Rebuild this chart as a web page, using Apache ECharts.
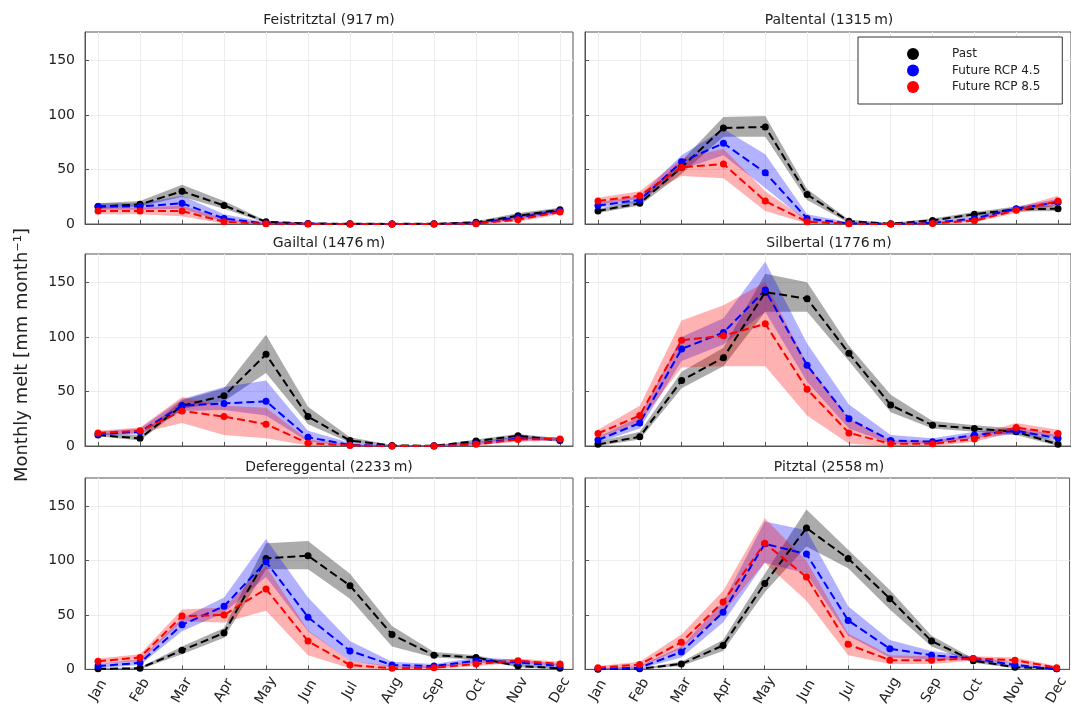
<!DOCTYPE html>
<html><head><meta charset="utf-8">
<script src="https://cdn.jsdelivr.net/npm/echarts@6/dist/echarts.min.js"></script>
<style>html,body{margin:0;padding:0;background:#fff}#c{width:1071px;height:709px}</style>
</head><body><div id="c"></div>
<script>
const months = ['Jan','Feb','Mar','Apr','May','Jun','Jul','Aug','Sep','Oct','Nov','Dec'];
const panelTitles = ['Feistritztal (917\u2009m)','Paltental (1315\u2009m)','Gailtal (1476\u2009m)','Silbertal (1776\u2009m)','Defereggental (2233\u2009m)','Pitztal (2558\u2009m)'];
const yTicks = [0, 50, 100, 150];
const seriesNames = ['Past', 'Future RCP 4.5', 'Future RCP 8.5'];

// Feistritztal
const feiPast    = [16, 18, 30, 17, 2, 0.5, 0.2, 0.1, 0.2, 1.5, 7.5, 13];
const feiPastLo  = [14, 16, 25, 14, 1, 0, 0, 0, 0, 0.5, 5.5, 11];
const feiPastHi  = [19, 21, 36, 21, 3, 1, 0.5, 0.3, 0.5, 2.5, 10, 15];
const feiRcp45   = [16, 16, 19, 5, 0.5, 0.2, 0, 0, 0, 0.5, 6, 12];
const feiRcp45Lo = [13, 13, 14, 2, 0, 0, 0, 0, 0, 0, 4, 10];
const feiRcp45Hi = [19, 19, 26, 9, 1.5, 0.5, 0.2, 0.2, 0.2, 1.5, 8.5, 14.5];
const feiRcp85   = [12, 12, 12, 2, 0.3, 0.1, 0, 0, 0, 0.3, 4, 11];
const feiRcp85Lo = [9, 9, 7, 0.5, 0, 0, 0, 0, 0, 0, 2, 9];
const feiRcp85Hi = [15, 15, 17, 4.5, 1, 0.3, 0.1, 0.1, 0.1, 1, 7, 14];
// Paltental
const palPast    = [12, 19, 52, 88, 89, 27, 2.5, 0.3, 3.3, 9, 13.5, 14];
const palPastLo  = [10, 17, 46, 80, 80, 22, 1, 0, 2, 7, 11.5, 12];
const palPastHi  = [14, 22, 58, 98, 99, 32, 4, 1, 5, 11, 16, 17];
const palRcp45   = [17, 22, 57, 74, 47, 5, 0.5, 0, 1, 5, 14, 20];
const palRcp45Lo = [15, 20, 50, 63, 33, 2, 0, 0, 0.2, 3, 12, 17];
const palRcp45Hi = [20, 26, 63, 87, 64, 9, 1.5, 0.5, 2, 7, 16, 23];
const palRcp85   = [21, 26, 52, 55, 21, 2, 0.2, 0, 0.5, 3, 12.5, 21];
const palRcp85Lo = [18, 23, 44, 42, 12, 0.5, 0, 0, 0, 1.5, 10, 17];
const palRcp85Hi = [24, 30, 60, 69, 30, 4, 1, 0.3, 1.5, 5, 15, 26];
// Gailtal
const gaiPast    = [10, 7, 37, 46, 84, 27, 5, 0.5, 0.2, 4.5, 9.5, 5];
const gaiPastLo  = [9, 5, 34, 41, 67, 20, 3, 0, 0, 2.5, 7.5, 4];
const gaiPastHi  = [12, 10, 42, 53, 102, 36, 8, 1, 0.5, 6, 11, 7];
const gaiRcp45   = [11, 13, 37, 39, 41, 8, 1, 0.1, 0, 2, 7, 6];
const gaiRcp45Lo = [10, 11, 32, 33, 28, 4, 0, 0, 0, 1, 5, 5];
const gaiRcp45Hi = [13, 16, 43, 54, 60, 14, 3, 0.5, 0.2, 4, 9, 8];
const gaiRcp85   = [12, 14, 32, 27, 20, 2.5, 0.5, 0, 0, 1.5, 6, 6.5];
const gaiRcp85Lo = [10, 12, 21, 10, 7, 0.5, 0, 0, 0, 0.5, 4, 5];
const gaiRcp85Hi = [14, 17, 45, 37, 35, 6, 1.5, 0.3, 0.2, 3, 8, 8];
// Silbertal
const silPast    = [1.5, 8.5, 60, 81, 141, 135, 85, 37.5, 19, 16, 13, 1.5];
const silPastLo  = [0, 6, 53, 73, 123, 123, 78, 31, 16, 13, 10, 0];
const silPastHi  = [4, 13, 68, 90, 158, 150, 92, 47, 23, 19, 16, 4];
const silRcp45   = [5.5, 21, 89, 104, 143, 74, 25, 5, 4, 10, 14, 7];
const silRcp45Lo = [3, 16, 78, 93, 123, 59, 16, 2, 2, 7, 11, 5];
const silRcp45Hi = [8, 27, 100, 117, 169, 94, 38, 10, 7, 13, 17, 10];
const silRcp85   = [11.5, 28, 97, 101, 112, 52, 12, 2, 2, 6.5, 17, 11.5];
const silRcp85Lo = [7, 22, 72, 73, 73, 28, 2, 0, 0, 4, 13, 8];
const silRcp85Hi = [15, 37, 115, 129, 150, 75, 25, 5, 5, 10, 21, 15];
// Defereggental
const defPast    = [0.5, 1, 17.5, 33.5, 102, 104.5, 77, 32, 13, 11, 3, 1];
const defPastLo  = [0, 0, 14, 29, 92, 92, 65, 21, 11, 9, 2, 0];
const defPastHi  = [1, 2, 21, 38, 116, 118, 88, 40, 16, 13, 5, 2];
const defRcp45   = [3, 6, 41, 58, 99, 48, 17, 4, 3, 8, 6.5, 3];
const defRcp45Lo = [1, 4, 35, 52, 85, 35, 8, 2, 1, 6, 4, 1];
const defRcp45Hi = [5, 9, 47, 66, 120, 66, 26, 7, 5, 11, 9, 5];
const defRcp85   = [7.5, 11, 49, 50, 74, 26, 4, 1, 1.5, 5, 8, 5];
const defRcp85Lo = [5, 8, 44, 43, 54, 13, 1, 0, 0, 3, 6, 3];
const defRcp85Hi = [10, 14, 55, 57, 95, 36, 8, 3, 3, 8, 10, 7];
// Pitztal
const pitPast    = [0.2, 0.5, 5, 22, 79, 130, 102, 65, 26, 8, 2, 0.5];
const pitPastLo  = [0, 0, 3, 17, 71, 113, 93, 55, 21, 6, 1, 0];
const pitPastHi  = [0.5, 1, 7, 27, 88, 147, 110, 73, 31, 10, 3, 1];
const pitRcp45   = [0.5, 1.5, 16, 52.5, 115.5, 106, 45, 19, 13, 10, 4, 0.5];
const pitRcp45Lo = [0, 0.5, 11, 43, 98, 88, 31, 11, 9, 8, 2, 0];
const pitRcp45Hi = [1, 3, 21, 62, 136, 128, 58, 27, 17, 12, 6, 1];
const pitRcp85   = [1.5, 4.5, 25, 62, 116, 85, 23, 8.5, 8.5, 10, 8.5, 1.5];
const pitRcp85Lo = [0, 2, 19, 52, 98, 63, 13, 5, 5, 8, 6, 0.5];
const pitRcp85Hi = [3, 7, 32, 72, 139, 100, 33, 13, 12, 12, 11, 3];

const panelData = [
  [[feiPast, feiPastLo, feiPastHi], [feiRcp45, feiRcp45Lo, feiRcp45Hi], [feiRcp85, feiRcp85Lo, feiRcp85Hi]],
  [[palPast, palPastLo, palPastHi], [palRcp45, palRcp45Lo, palRcp45Hi], [palRcp85, palRcp85Lo, palRcp85Hi]],
  [[gaiPast, gaiPastLo, gaiPastHi], [gaiRcp45, gaiRcp45Lo, gaiRcp45Hi], [gaiRcp85, gaiRcp85Lo, gaiRcp85Hi]],
  [[silPast, silPastLo, silPastHi], [silRcp45, silRcp45Lo, silRcp45Hi], [silRcp85, silRcp85Lo, silRcp85Hi]],
  [[defPast, defPastLo, defPastHi], [defRcp45, defRcp45Lo, defRcp45Hi], [defRcp85, defRcp85Lo, defRcp85Hi]],
  [[pitPast, pitPastLo, pitPastHi], [pitRcp45, pitRcp45Lo, pitRcp45Hi], [pitRcp85, pitRcp85Lo, pitRcp85Hi]]
];

const FONT = 'DejaVu Sans';
const lineColors = ['#000000', '#0000ff', '#ff0000'];
const bandColors = ['rgba(0,0,0,0.33)', 'rgba(0,0,255,0.3)', 'rgba(255,0,0,0.3)'];
const gridPos = [[85, 32, 192], [585, 32, 192], [85, 254, 192], [585, 254, 192], [85, 478, 193], [585, 478, 193]];
const titleY = [20, 243, 467];
const monthIdx = months.map((m, i) => i);
const pts = arr => arr.map((v, i) => [i, v]);

function bandRenderer(color) {
  return function (params, api) {
    if (params.dataIndexInside !== 0) return null;
    const n = params.dataInsideLength;
    const up = [], dn = [];
    for (let i = 0; i < n; i++) {
      up.push(api.coord([api.value(0, i), api.value(2, i)]));
      dn.push(api.coord([api.value(0, i), api.value(1, i)]));
    }
    return {type: 'polygon', shape: {points: up.concat(dn.reverse())}, style: {fill: color}};
  };
}

const grids = [], xAxes = [], yAxes = [], series = [];
gridPos.forEach((g, p) => {
  grids.push({left: g[0], top: g[1], width: 488, height: g[2], show: true, borderColor: '#555', borderWidth: 1, backgroundColor: 'transparent'});
  xAxes.push({
    type: 'value', gridIndex: p, min: -0.31, max: 11.31,
    axisLine: {show: true, onZero: false, lineStyle: {color: '#555', width: 1}},
    axisTick: {show: true, inside: true, length: 4, customValues: monthIdx, lineStyle: {color: '#555'}},
    axisLabel: {show: p >= 4, customValues: monthIdx, formatter: v => months[Math.round(v)],
      rotate: 60, align: 'center', verticalAlign: 'middle', margin: 21,
      fontSize: 14, fontFamily: FONT, color: '#222'},
    splitLine: {show: true, lineStyle: {color: '#ededed', width: 1}}
  });
  yAxes.push({
    type: 'value', gridIndex: p, min: 0, max: 176, interval: 50,
    axisLine: {show: true, onZero: false, lineStyle: {color: '#555', width: 1}},
    axisTick: {show: true, inside: true, length: 4, customValues: yTicks, lineStyle: {color: '#555'}},
    axisLabel: {show: p % 2 === 0, customValues: yTicks, fontSize: 14, fontFamily: FONT, color: '#222', margin: 10},
    splitLine: {show: true, lineStyle: {color: '#ededed', width: 1}}
  });
  panelData[p].forEach((sd, s) => {
    const [mean, lo, hi] = sd;
    series.push({type: 'custom', xAxisIndex: p, yAxisIndex: p,
      data: mean.map((v, i) => [i, lo[i], hi[i]]),
      encode: {x: 0, y: [1, 2]},
      renderItem: bandRenderer(bandColors[s]), silent: true});
    series.push({type: 'line', name: seriesNames[s], xAxisIndex: p, yAxisIndex: p, data: pts(mean),
      symbol: 'circle', symbolSize: 7, showSymbol: true,
      itemStyle: {color: lineColors[s], borderWidth: 0},
      lineStyle: {color: lineColors[s], width: 2, type: [8, 4]},
      emphasis: {disabled: true}});
  });
});

const graphics = panelTitles.map((t, i) => ({
  type: 'text', x: i % 2 ? 829 : 329, y: titleY[i >> 1],
  style: {text: t, fontSize: 14, fontFamily: FONT, fill: '#222', align: 'center', verticalAlign: 'middle'}
}));
graphics.push({type: 'text', x: 22, y: 355, rotation: Math.PI / 2,
  style: {text: 'Monthly melt [mm month\u207b\u00b9]', fontSize: 18, fontFamily: FONT, fill: '#222', align: 'center', verticalAlign: 'middle'}});

const chart = echarts.init(document.getElementById('c'), null, {renderer: 'canvas'});
chart.setOption({
  animation: false,
  backgroundColor: '#fff',
  grid: grids, xAxis: xAxes, yAxis: yAxes, series: series,
  legend: {
    data: seriesNames.map(n => ({name: n, icon: 'circle'})),
    orient: 'vertical', left: 858, top: 37, itemWidth: 12, itemHeight: 12, itemGap: 4.5,
    padding: [11, 22, 11, 49], borderColor: '#333', borderWidth: 1, borderRadius: 0,
    backgroundColor: '#fff', selectedMode: false,
    textStyle: {fontSize: 12, fontFamily: FONT, color: '#222', lineHeight: 12, padding: [0, 0, 0, 28]}
  },
  graphic: graphics
});
</script></body></html>
